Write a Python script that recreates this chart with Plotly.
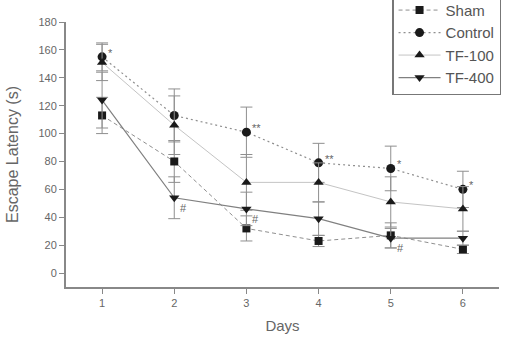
import plotly.graph_objects as go

days = [1, 2, 3, 4, 5, 6]
sham = [113, 80, 32, 23, 27, 17]
sham_err = [13, 15, 9, 4, 9, 3]
control = [155, 113, 101, 79, 75, 60]
control_err = [10, 19, 18, 14, 16, 13]
tf100 = [151, 106, 65, 65, 51, 46]
tf100_err = [13, 21, 20, 14, 18, 16]
tf400 = [124, 54, 46, 39, 25, 25]
tf400_err = [20, 15, 12, 12, 7, 5]

control_marks = ["*", "", "**", "**", "*", "*"]
tf400_marks = ["", "#", "#", "", "#", ""]

series = [
    ("Sham", sham, sham_err, "square", 8, "4px,3px", "#8f8f8f", 1),
    ("Control", control, control_err, "circle", 9, "2px,3px", "#8f8f8f", 1.2),
    ("TF-100", tf100, tf100_err, "triangle-up", 9, "solid", "#c4c4c4", 1),
    ("TF-400", tf400, tf400_err, "triangle-down", 9, "solid", "#808080", 1.2),
]

fig = go.Figure()
for name, vals, err, sym, size, dash, lc, lw in series:
    fig.add_trace(go.Scatter(
        x=days, y=vals, name=name, mode="lines+markers",
        line=dict(color=lc, width=lw, dash=dash),
        marker=dict(symbol=sym, size=size, color="#1a1a1a"),
        error_y=dict(type="data", array=err, visible=True,
                     color="#8f8f8f", thickness=1, width=6),
    ))

ann = []
for d, v, m in zip(days, control, control_marks):
    if m:
        ann.append(dict(x=d, y=v, text=m, showarrow=False, xanchor="left",
                        yanchor="bottom", xshift=4, yshift=-4,
                        font=dict(size=11, color="#666")))
for d, v, m in zip(days, tf400, tf400_marks):
    if m:
        ann.append(dict(x=d, y=v, text=m, showarrow=False, xanchor="left",
                        yanchor="top", xshift=4, yshift=-2,
                        font=dict(size=11, color="#666")))

axis_font = dict(family="Liberation Sans, Arial, sans-serif", size=11, color="#666")
fig.update_layout(
    width=507, height=337,
    margin=dict(l=66, r=8, t=22, b=50, autoexpand=False),
    paper_bgcolor="white", plot_bgcolor="white",
    font=dict(family="Liberation Sans, Arial, sans-serif", color="#555"),
    annotations=ann,
    legend=dict(x=0.753, y=1.112, xanchor="left", yanchor="top",
                bordercolor="#777", borderwidth=1.5, bgcolor="white",
                font=dict(size=15, color="#555"), tracegroupgap=0,
                itemwidth=42),
    xaxis=dict(range=[0.5, 6.5], tickvals=days, ticks="outside", ticklen=5,
               tickcolor="#888", showline=True, linecolor="#888", linewidth=2,
               showgrid=False, zeroline=False, tickfont=axis_font,
               title=dict(text="Days", font=dict(size=15, color="#666"), standoff=12)),
    yaxis=dict(range=[-10, 180], tickvals=list(range(0, 181, 20)), ticks="outside",
               ticklen=5, tickcolor="#888", showline=True, linecolor="#888",
               linewidth=2, showgrid=False, zeroline=False, tickfont=axis_font,
               title=dict(text="Escape Latency (s)", font=dict(size=16, color="#666"),
                          standoff=16)),
)

fig.write_html("out.html")
